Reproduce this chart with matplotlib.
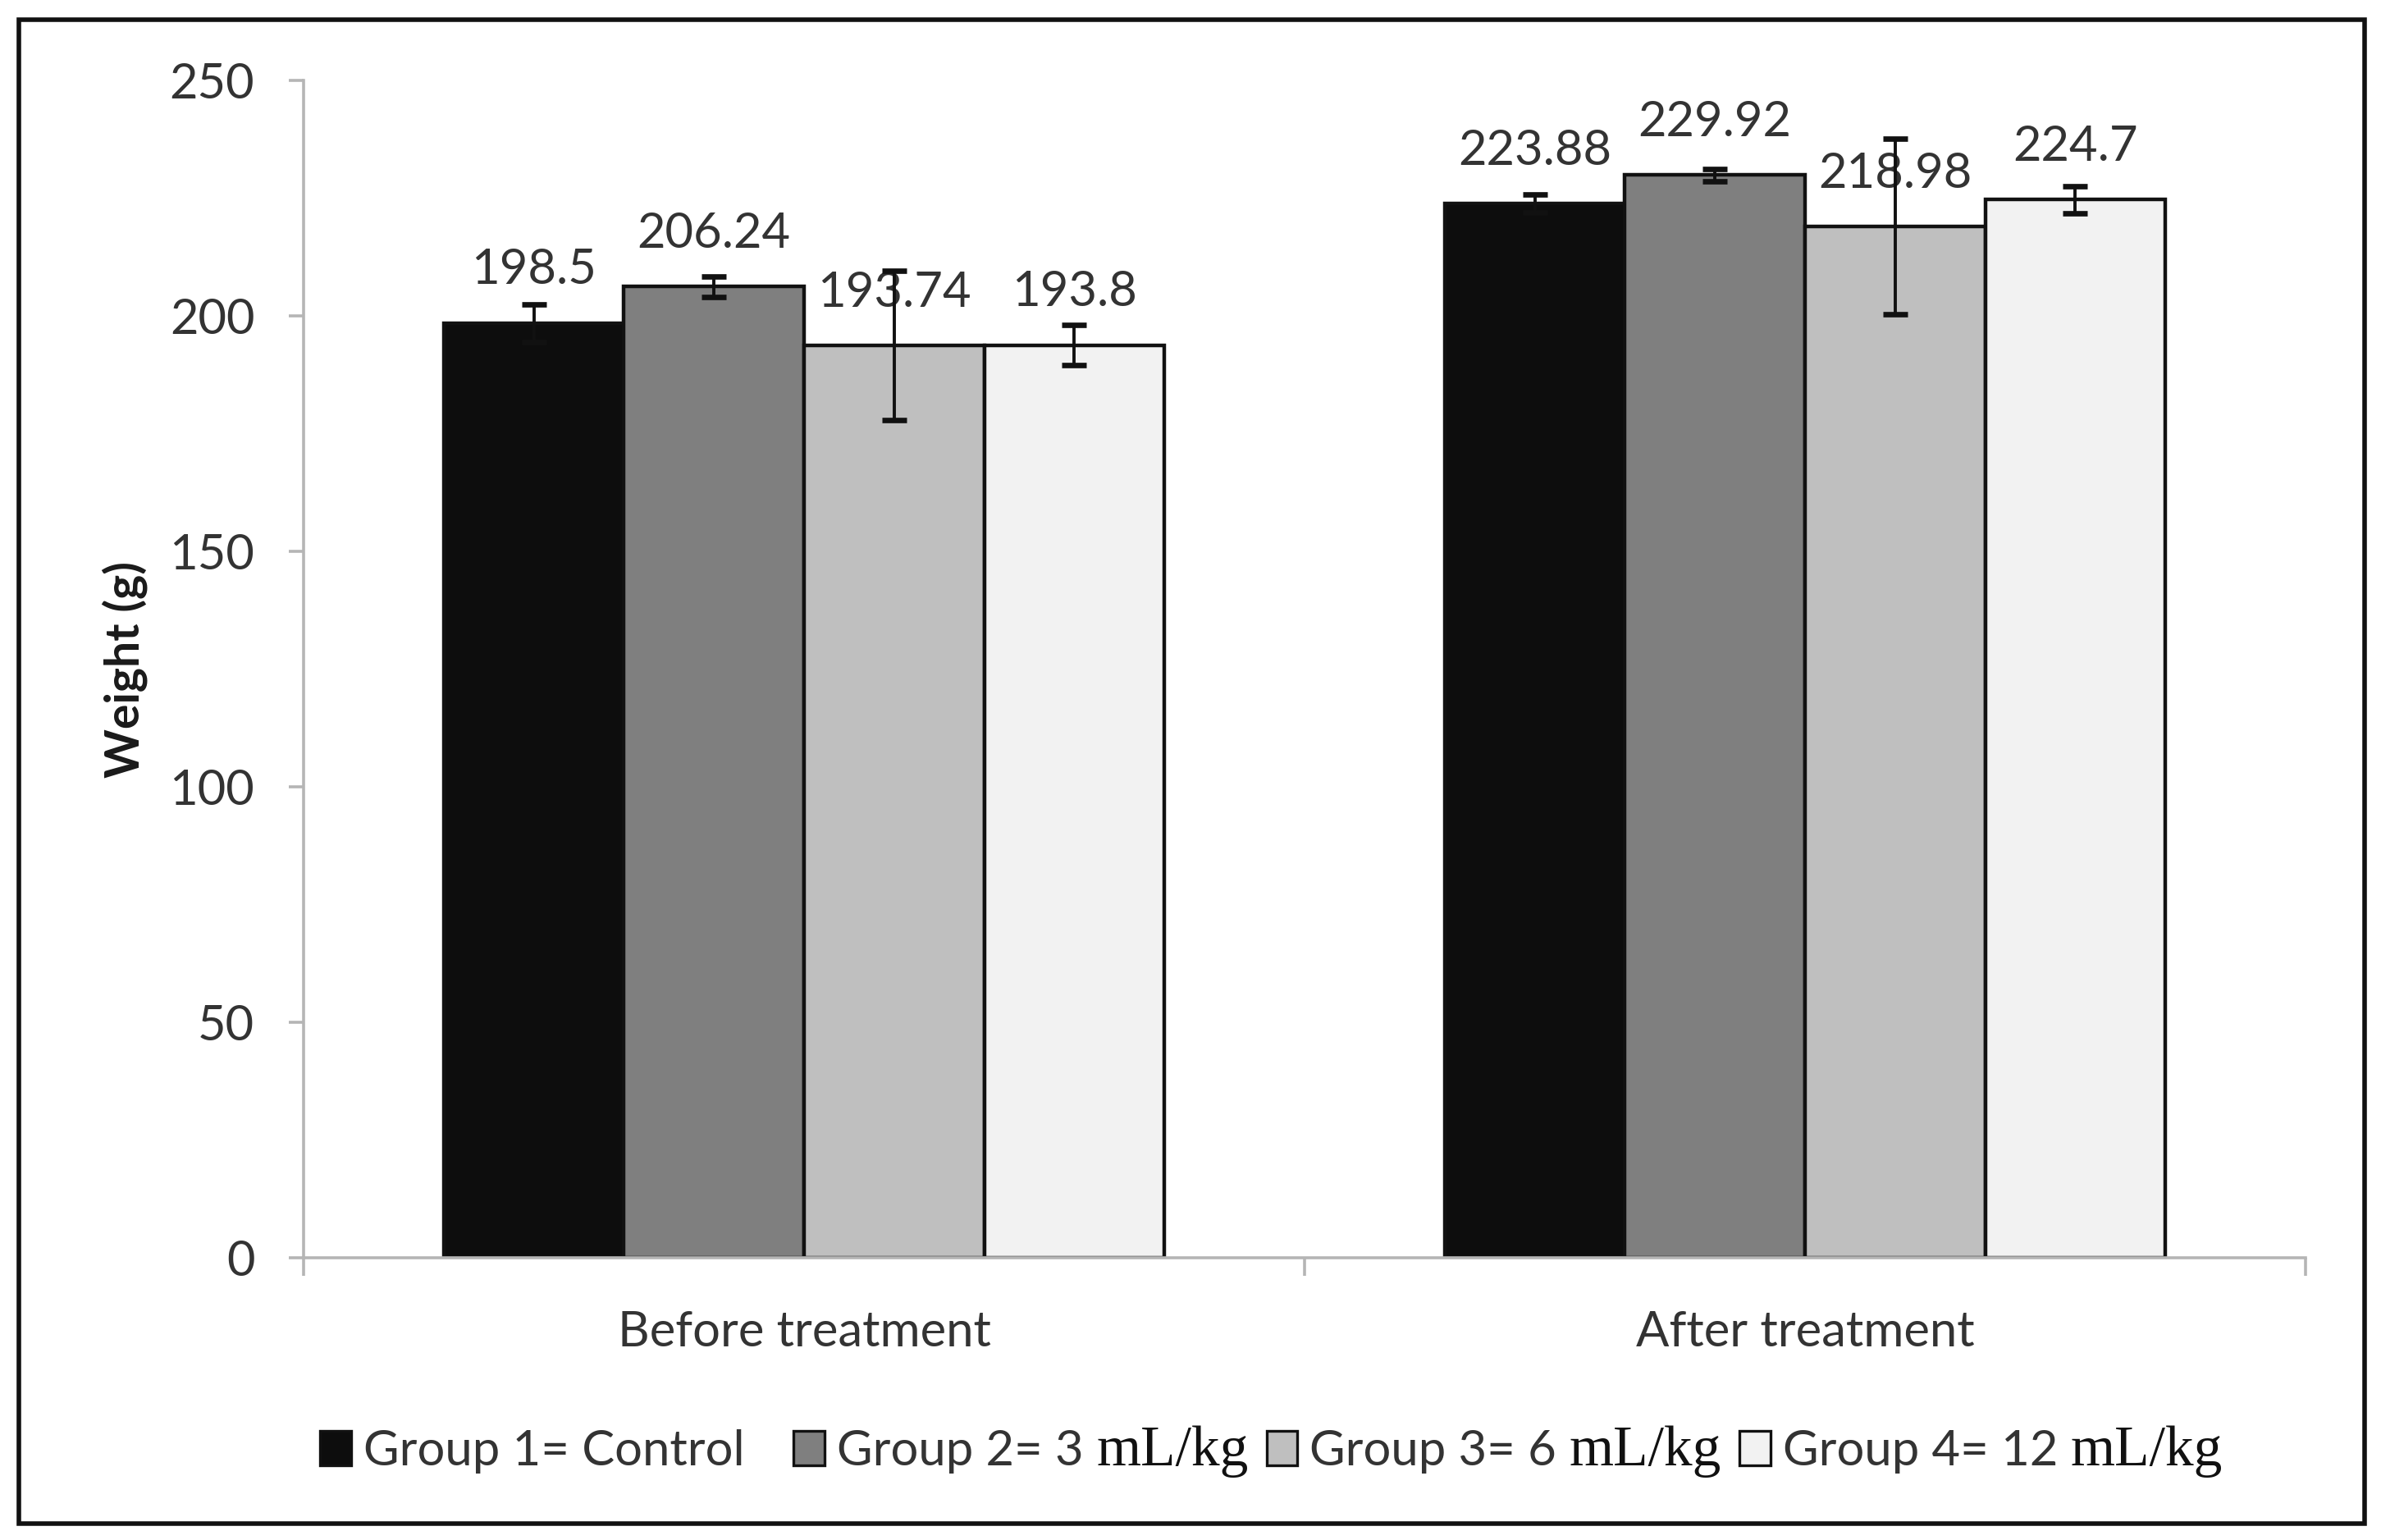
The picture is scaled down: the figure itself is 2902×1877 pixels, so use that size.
import matplotlib
matplotlib.use("Agg")
import matplotlib.pyplot as plt
from matplotlib.patches import Rectangle
from matplotlib.offsetbox import AnchoredOffsetbox, HPacker, TextArea, DrawingArea
import numpy as np

# data
periods = ["Before treatment", "After treatment"]
groups = ["Group 1= Control", "Group 2= 3", "Group 3= 6", "Group 4= 12"]
units = ["", "mL/kg", "mL/kg", "mL/kg"]
group1 = [198.5, 223.88]
group2 = [206.24, 229.92]
group3 = [193.74, 218.98]
group4 = [193.8, 224.7]
err1 = [4.0, 1.9]
err2 = [2.2, 1.3]
err3 = [15.8, 18.6]
err4 = [4.2, 2.9]
colors = ["#0d0d0d", "#7f7f7f", "#bfbfbf", "#f2f2f2"]

sans = "Lato"
serif = "Liberation Serif"
txt_col = "#333333"
axis_col = "#b5b5b5"
fs = 21.5

fig = plt.figure(figsize=(14.51, 9.385), dpi=200)
ax = fig.add_axes([0.1275, 0.18327, 0.8408, 0.76452])

x = np.arange(len(periods))
w = 0.18
series = [group1, group2, group3, group4]
errs = [err1, err2, err3, err4]
for i, (vals, e) in enumerate(zip(series, errs)):
    pos = x + (i - 1.5) * w
    ax.bar(pos, vals, w, yerr=e, color=colors[i], edgecolor="#111111", linewidth=1.6,
           error_kw=dict(ecolor="#111111", elinewidth=1.4, capsize=5.5, capthick=2.4, zorder=4))
    for px, v in zip(pos, vals):
        ax.annotate(str(v), (px, v), xytext=(0, 17), textcoords="offset points",
                    ha="center", va="baseline", fontsize=fs, family=sans, color=txt_col)

ax.set_xlim(-0.5, 1.5)
ax.set_ylim(0, 250)
ax.set_yticks(np.arange(0, 251, 50))
ax.set_xticks([-0.5, 0.5, 1.5])
ax.set_xticklabels([])
ax.set_xticks(x, minor=True)
ax.set_xticklabels(periods, minor=True)

for s in ["top", "right"]:
    ax.spines[s].set_visible(False)
for s in ["left", "bottom"]:
    ax.spines[s].set_color(axis_col)
    ax.spines[s].set_linewidth(1.3)

ax.tick_params(axis="y", which="major", length=6.5, width=1.3, color=axis_col, pad=15,
               labelsize=fs, labelcolor=txt_col)
ax.tick_params(axis="x", which="major", length=8, width=1.3, color=axis_col)
ax.tick_params(axis="x", which="minor", length=0, pad=23, labelsize=fs, labelcolor=txt_col)
for lab in ax.get_yticklabels() + ax.get_xticklabels(minor=True):
    lab.set_family(sans)

ax.set_ylabel("Weight (g)", fontsize=20.5, family=sans, fontweight="bold", color="#1a1a1a")
ax.yaxis.set_label_coords(-0.078, 0.5)

# legend built from pieces: sans group text, serif unit
entries = []
for k, (g, u, c) in enumerate(zip(groups, units, colors)):
    da = DrawingArea(13.5, 15, 0, 0)
    da.add_artist(Rectangle((0, 0), 13.5, 15, facecolor=c, edgecolor="#111111", linewidth=1.2))
    parts = [da, TextArea(g, textprops=dict(fontsize=fs, family=sans, color=txt_col))]
    if u:
        parts.append(TextArea(u, textprops=dict(fontsize=25, family=serif, color="#111111")))
    if k == 0:
        parts.append(DrawingArea(8, 1, 0, 0))  # wider column after "Control", as in Excel
    entries.append(HPacker(children=parts, align="baseline", pad=0, sep=5.5))
legend_box = HPacker(children=entries, align="baseline", pad=0, sep=8)
anchored = AnchoredOffsetbox(loc="center", child=legend_box, pad=0, borderpad=0, frameon=False,
                             bbox_to_anchor=(0.534, 0.0575), bbox_transform=fig.transFigure)
fig.add_artist(anchored)

# outer frame
fig.add_artist(Rectangle((0.0079, 0.0107), 0.9852, 0.9765, transform=fig.transFigure,
                         fill=False, edgecolor="#111111", linewidth=2))

fig.savefig("out.png", dpi=200, facecolor="white")
